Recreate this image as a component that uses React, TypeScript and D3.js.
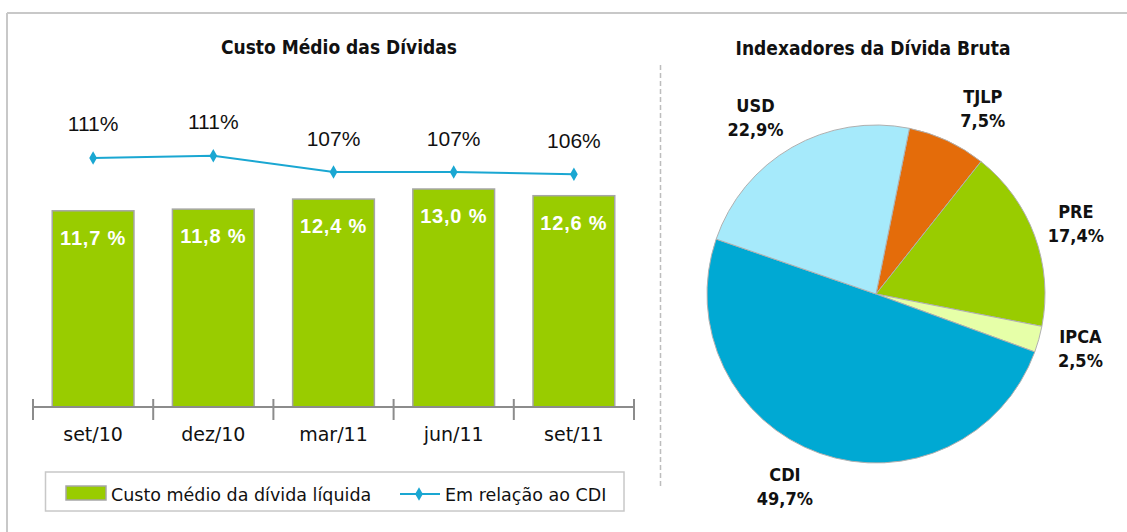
import React from 'react'
import * as d3 from 'd3'

// left chart: custo médio
const periods = ['set/10', 'dez/10', 'mar/11', 'jun/11', 'set/11']
const custoMedio = [11.7, 11.8, 12.4, 13.0, 12.6]
const relCdi = [110.8, 111.4, 107.0, 107.0, 106.4]

// right chart: indexadores
const indexadores = ['TJLP', 'PRE', 'IPCA', 'CDI', 'USD']
const participacao = [7.5, 17.4, 2.5, 49.7, 22.9]
const sliceColors = ['#E46C0A', '#99CC00', '#E6FFA8', '#00A9D3', '#A6EAFB']

const W = 1127
const H = 532
const sans = '"DejaVu Sans", sans-serif'
const cond = '"DejaVu Sans Condensed", "DejaVu Sans", sans-serif'
const narrow = '"Liberation Sans Narrow", "Liberation Sans", sans-serif'

const comma = (v: number, f: string) => d3.format(f)(v).replace('.', ',')

export default function App() {
  // bars
  const x = d3.scaleBand().domain(periods).range([33, 634]).paddingInner(0.32).paddingOuter(0.16)
  const yBar = d3.scaleLinear().domain([0, 13]).range([407, 189])
  const yLine = d3.scaleLinear().domain([100, 115]).range([198, 142.4])
  const cx = (p: string) => (x(p) as number) + x.bandwidth() / 2

  const line = d3.line<number>()
    .x((d, i) => cx(periods[i]))
    .y((d) => yLine(d))
  const diamond = d3.symbol(d3.symbolDiamond, 52)()

  const ticks = [...periods.map((p) => (x(p) as number) - x.step() * x.paddingInner() / 2), 634]

  // pie
  const pc = { x: 876, y: 294 }
  const r = 169
  const start = (11.4 * Math.PI) / 180
  const pie = d3.pie<number>().sort(null).value((d) => d)
    .startAngle(start).endAngle(start + Math.PI * 2)
  const arcs = pie(participacao)
  const arc = d3.arc<d3.PieArcDatum<number>>().innerRadius(0).outerRadius(r)

  return (
    <div style={{ position: 'absolute', left: 0, top: 0 }}>
      <svg width={W} height={H} style={{ display: 'block', background: '#fff' }}>
        {/* frame */}
        <line x1={7} y1={13} x2={W} y2={13} stroke="#C8C8C8" strokeWidth={2} />
        <line x1={7} y1={13} x2={7} y2={H} stroke="#C8C8C8" strokeWidth={2} />
        <line x1={660.5} y1={65} x2={660.5} y2={487} stroke="#BDBDBD" strokeWidth={1.5} strokeDasharray="5 3" />

        {/* left title */}
        <text x={339} y={54} textAnchor="middle" fontFamily={cond} fontWeight="bold" fontSize={19} fill="#111">
          Custo Médio das Dívidas
        </text>

        {/* bars */}
        {periods.map((p, i) => (
          <g key={p}>
            <rect x={x(p)} y={yBar(custoMedio[i])} width={x.bandwidth()} height={407 - yBar(custoMedio[i])}
              fill="#99CC00" stroke="#A6A6A6" strokeWidth={1.5} />
            <text x={cx(p)} y={yBar(custoMedio[i]) + 34} textAnchor="middle" fill="#fff"
              fontFamily='"Liberation Sans", Arial, sans-serif' fontWeight="bold" fontSize={20} letterSpacing={0.8}>
              {comma(custoMedio[i], '.1f') + ' %'}
            </text>
          </g>
        ))}

        {/* axis */}
        <line x1={33} y1={407} x2={634} y2={407} stroke="#8C8C8C" strokeWidth={2} />
        {ticks.map((t, i) => (
          <line key={i} x1={t} y1={399} x2={t} y2={420} stroke="#8C8C8C" strokeWidth={2} />
        ))}
        {periods.map((p) => (
          <text key={p} x={cx(p)} y={441} textAnchor="middle" fontFamily={sans} fontSize={19} fill="#111">{p}</text>
        ))}

        {/* line series */}
        <path d={line(relCdi) || ''} fill="none" stroke="#1AA7D2" strokeWidth={2} />
        {relCdi.map((v, i) => (
          <g key={i}>
            <path d={diamond || ''} transform={`translate(${cx(periods[i])},${yLine(v)})`} fill="#1AA7D2" />
            <text x={cx(periods[i])} y={yLine(v) - 26.5} textAnchor="middle" fontFamily={narrow} fontSize={21} fill="#111">
              {d3.format('.0f')(v) + '%'}
            </text>
          </g>
        ))}

        {/* legend */}
        <rect x={45.5} y={472} width={578.5} height={39} fill="#fff" stroke="#C8C8C8" strokeWidth={1.5} />
        <rect x={66} y={486} width={40} height={14} fill="#99CC00" stroke="#A6A6A6" strokeWidth={1.5} />
        <text x={111} y={501} fontFamily={sans} fontSize={17.5} fill="#111">Custo médio da dívida líquida</text>
        <line x1={400} y1={494} x2={440} y2={494} stroke="#1AA7D2" strokeWidth={2} />
        <path d={diamond || ''} transform="translate(419,494)" fill="#1AA7D2" />
        <text x={445} y={501} fontFamily={sans} fontSize={17.5} fill="#111">Em relação ao CDI</text>

        {/* right title */}
        <text x={873} y={55} textAnchor="middle" fontFamily={cond} fontWeight="bold" fontSize={19} fill="#111">
          Indexadores da Dívida Bruta
        </text>

        {/* pie */}
        <g transform={`translate(${pc.x},${pc.y})`}>
          {arcs.map((a, i) => (
            <path key={indexadores[i]} d={arc(a) || ''} fill={sliceColors[i]} stroke="#B0B0B0" strokeWidth={1} />
          ))}
          {arcs.map((a, i) => {
            const mid = (a.startAngle + a.endAngle) / 2
            const s = Math.sin(mid)
            const c = Math.cos(mid)
            const lx = 180 * s + (s >= 0 ? 31 : -31)
            const ly = -180 * c - 24 * c
            return (
              <text key={indexadores[i]} x={lx} y={ly} textAnchor="middle" fontFamily={cond} fontWeight="bold" fontSize={18} fill="#111">
                <tspan x={lx} dy={-5.5}>{indexadores[i]}</tspan>
                <tspan x={lx} dy={24}>{comma(participacao[i], '.1f') + '%'}</tspan>
              </text>
            )
          })}
        </g>
      </svg>
    </div>
  )
}
